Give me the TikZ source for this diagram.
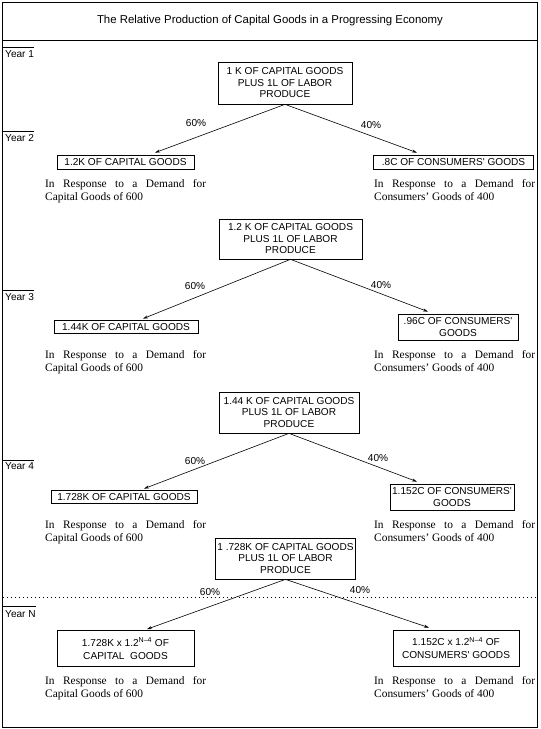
\documentclass[tikz,border=0pt]{standalone}
\usepackage{fontspec}
\setmainfont{Liberation Serif}
\setsansfont{Liberation Sans}
\usetikzlibrary{arrows.meta,calc}
\begin{document}
\begin{tikzpicture}[x=1pt,y=-1pt,
  boxfont/.style={font=\sffamily\fontsize{10.1}{11.5}\selectfont},
  goodsbox/.style={draw, line width=0.7pt, boxfont, align=center, inner sep=0pt},
  pct/.style={boxfont, inner sep=0pt},
  yearlbl/.style={boxfont, anchor=base west, inner sep=0pt},
  resp/.style={font=\rmfamily\fontsize{11.4}{13}\selectfont, anchor=north west, inner sep=0pt, align=left},
  flow/.style={line width=0.6pt, -{Stealth[length=5pt,width=3pt]}},
  yearline/.style={line width=0.6pt},
]
\useasboundingbox (0,0) rectangle (541,729);
% frame and title
\draw[line width=0.8pt] (2.5,2.5) rectangle (537.5,727);
\draw[line width=0.8pt] (2.5,40) -- (537.5,40);
\node[font=\sffamily\fontsize{11.4}{13}\selectfont, inner sep=0pt] (title) at (270,21) {The Relative Production of Capital Goods in a Progressing Economy};

% year labels
\node[yearlbl] (y1) at (5,57.6) {Year 1};
\node[yearlbl] (y2) at (5,141) {Year 2};
\node[yearlbl] (y3) at (5,300.5) {Year 3};
\node[yearlbl] (y4) at (5,469.5) {Year 4};
\node[yearlbl] (yn) at (5,617.5) {Year N};
\coordinate (o1) at (2.5,47);
\coordinate (o2) at (2.5,131);
\coordinate (o3) at (2.5,290);
\coordinate (o4) at (2.5,460.5);
\coordinate (on) at (2.5,606);
\draw[yearline] (o1) -- (o1 -| y1.east);
\draw[yearline] (o2) -- (o2 -| y2.east);
\draw[yearline] (o3) -- (o3 -| y3.east);
\draw[yearline] (o4) -- (o4 -| y4.east);
\draw[yearline] (on) -- (on -| yn.east);

% dotted separator
\coordinate (dl) at (2.5,597);
\coordinate (dr) at (537.5,597);
\draw[line width=0.6pt, dash pattern=on 0.8pt off 3.2pt] (dl) -- (dr);

% ---------- Year 1 -> 2
\node[goodsbox, minimum width=134pt, minimum height=42pt] (k1) at (285,83) {1 K OF CAPITAL GOODS\\PLUS 1L OF LABOR\\PRODUCE};
\node[goodsbox, minimum width=137pt, minimum height=14pt] (c2) at (125.5,162) {1.2K OF CAPITAL GOODS};
\node[goodsbox, minimum width=160pt, minimum height=14pt] (s2) at (453.5,162) {.8C OF CONSUMERS\textquotesingle{} GOODS};
\draw[flow] (k1.south) -- ([xshift=29.5pt,yshift=2pt]c2.north);
\draw[flow] (k1.south) -- ([xshift=-36.5pt,yshift=2pt]s2.north);
\node[pct] (p2l) at (196,123) {60\%};
\node[pct] (p2r) at (371,125) {40\%};
\node[resp] (t2l) at (45,179) {\makebox[161pt][s]{In Response to a Demand for}\\Capital Goods of 600};
\node[resp] (t2r) at (374,179) {\makebox[161pt][s]{In Response to a Demand for}\\Consumers’ Goods of 400};

% ---------- Year 3
\node[goodsbox, minimum width=143pt, minimum height=40pt] (k2) at (290.5,239) {1.2 K OF CAPITAL GOODS\\PLUS 1L OF LABOR\\PRODUCE};
\node[goodsbox, minimum width=144pt, minimum height=13pt] (c3) at (126,327) {1.44K OF CAPITAL GOODS};
\node[goodsbox, minimum width=120pt, minimum height=26pt] (s3) at (458,327) {.96C OF CONSUMERS\textquotesingle\\GOODS};
\draw[flow] (k2.south) -- ([xshift=17pt,yshift=1.5pt]c3.north);
\draw[flow] (k2.south) -- ([xshift=-30pt,yshift=2pt]s3.north);
\node[pct] (p3l) at (195,286) {60\%};
\node[pct] (p3r) at (381,285) {40\%};
\node[resp] (t3l) at (45,350) {\makebox[161pt][s]{In Response to a Demand for}\\Capital Goods of 600};
\node[resp] (t3r) at (374,350) {\makebox[161pt][s]{In Response to a Demand for}\\Consumers’ Goods of 400};

% ---------- Year 4
\node[goodsbox, minimum width=140pt, minimum height=41pt] (k3) at (289,412.5) {1.44 K OF CAPITAL GOODS\\PLUS 1L OF LABOR\\PRODUCE};
\node[goodsbox, minimum width=146pt, minimum height=13pt] (c4) at (124,497) {1.728K OF CAPITAL GOODS};
\node[goodsbox, minimum width=124pt, minimum height=26pt] (s4) at (452,497) {1.152C OF CONSUMERS\textquotesingle\\GOODS};
\draw[flow] (k3.south) -- ([xshift=20pt,yshift=1.5pt]c4.north);
\draw[flow] (k3.south) -- ([xshift=-35pt,yshift=2pt]s4.north);
\node[pct] (p4l) at (195,461) {60\%};
\node[pct] (p4r) at (378,458) {40\%};
\node[resp] (t4l) at (45,520) {\makebox[161pt][s]{In Response to a Demand for}\\Capital Goods of 600};
\node[resp] (t4r) at (374,520) {\makebox[161pt][s]{In Response to a Demand for}\\Consumers’ Goods of 400};

% ---------- Year N
\node[goodsbox, minimum width=140pt, minimum height=41pt] (k4) at (285.5,558.5) {1 .728K OF CAPITAL GOODS\\PLUS 1L OF LABOR\\PRODUCE};
\node[goodsbox, minimum width=137pt, minimum height=36pt, font=\sffamily\fontsize{10.1}{13}\selectfont] (c5) at (125.5,648.5) {1.728K x 1.2\textsuperscript{N–4} OF\\CAPITAL\ \ GOODS};
\node[goodsbox, minimum width=126pt, minimum height=36pt, font=\sffamily\fontsize{10.1}{13}\selectfont] (s5) at (456,648) {1.152C x 1.2\textsuperscript{N–4} OF\\CONSUMERS\textquotesingle{} GOODS};
\draw[flow] (k4.south) -- ([xshift=21.5pt,yshift=1pt]c5.north);
\draw[flow] (k4.south) -- ([xshift=-27pt,yshift=2pt]s5.north);
\node[pct] (pnl) at (210,592) {60\%};
\node[pct] (pnr) at (360,590) {40\%};
\node[resp] (tnl) at (45,676) {\makebox[161pt][s]{In Response to a Demand for}\\Capital Goods of 600};
\node[resp] (tnr) at (374,676) {\makebox[161pt][s]{In Response to a Demand for}\\Consumers’ Goods of 400};
\end{tikzpicture}
\end{document}
